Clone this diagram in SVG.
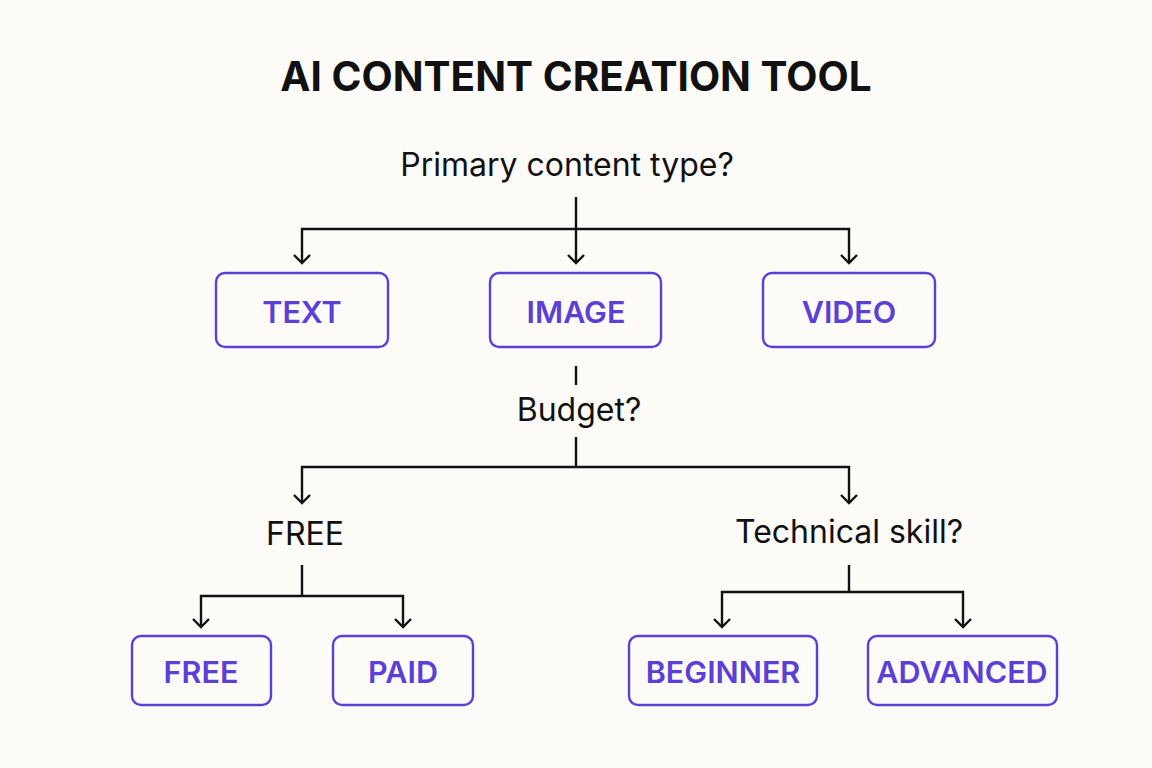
<svg xmlns="http://www.w3.org/2000/svg" width="1152" height="768" viewBox="0 0 1152 768">
<defs>
<marker id="arr" viewBox="0 0 20 20" refX="18" refY="10" markerWidth="20" markerHeight="20" markerUnits="userSpaceOnUse" orient="auto-start-reverse">
<path d="M10,2 L18,10 L10,18" fill="none" stroke="#111" stroke-width="2.4"/>
</marker>
<style>
.ln{fill:none;stroke:#111;stroke-width:2.4}
.box{fill:none;stroke:#5b3fd6;stroke-width:2.4}
.bt{font-family:Inter,"Liberation Sans",sans-serif;font-weight:600;font-size:30.5px;fill:#5b3fd6;text-anchor:middle}
.q{font-family:Inter,"Liberation Sans",sans-serif;font-weight:400;font-size:32px;fill:#111;text-anchor:middle}
</style>
</defs>
<rect width="1152" height="768" fill="#fcfbf8"/>
<text x="576" y="91" font-family="Inter,'Liberation Sans',sans-serif" font-weight="700" font-size="40.5" fill="#111" text-anchor="middle">AI CONTENT CREATION TOOL</text>
<g id="connectors">
<path class="ln" d="M576,197 V263" marker-end="url(#arr)"/>
<path class="ln" d="M302,263 V229 H849 V263" marker-end="url(#arr)" marker-start="url(#arr)"/>
<path class="ln" d="M576,366 V385"/>
<path class="ln" d="M576,437 V467"/>
<path class="ln" d="M302,503 V467 H849 V503" marker-end="url(#arr)" marker-start="url(#arr)"/>
<path class="ln" d="M302,565 V596"/>
<path class="ln" d="M201,627 V596 H403 V627" marker-end="url(#arr)" marker-start="url(#arr)"/>
<path class="ln" d="M849,565 V592"/>
<path class="ln" d="M722,627 V592 H963 V627" marker-end="url(#arr)" marker-start="url(#arr)"/>
</g>
<g id="q-primary"><text class="q" x="567" y="176">Primary content type?</text></g>
<g id="n-text"><rect class="box" x="216" y="273" width="172" height="74" rx="9"/><text class="bt" x="302" y="323">TEXT</text></g>
<g id="n-image"><rect class="box" x="490" y="273" width="171" height="74" rx="9"/><text class="bt" x="576" y="323">IMAGE</text></g>
<g id="n-video"><rect class="box" x="763" y="273" width="172" height="74" rx="9"/><text class="bt" x="849" y="323">VIDEO</text></g>
<g id="q-budget"><text class="q" x="579" y="421">Budget?</text></g>
<g id="q-free"><text class="q" x="305" y="545">FREE</text></g>
<g id="q-skill"><text class="q" x="849" y="543">Technical skill?</text></g>
<g id="n-free"><rect class="box" x="132" y="636" width="139" height="69" rx="9"/><text class="bt" x="201" y="683">FREE</text></g>
<g id="n-paid"><rect class="box" x="333" y="636" width="140" height="69" rx="9"/><text class="bt" x="403" y="683">PAID</text></g>
<g id="n-beginner"><rect class="box" x="629" y="636" width="188" height="69" rx="9"/><text class="bt" x="723" y="683">BEGINNER</text></g>
<g id="n-advanced"><rect class="box" x="868" y="636" width="189" height="69" rx="9"/><text class="bt" x="962" y="683">ADVANCED</text></g>
</svg>
